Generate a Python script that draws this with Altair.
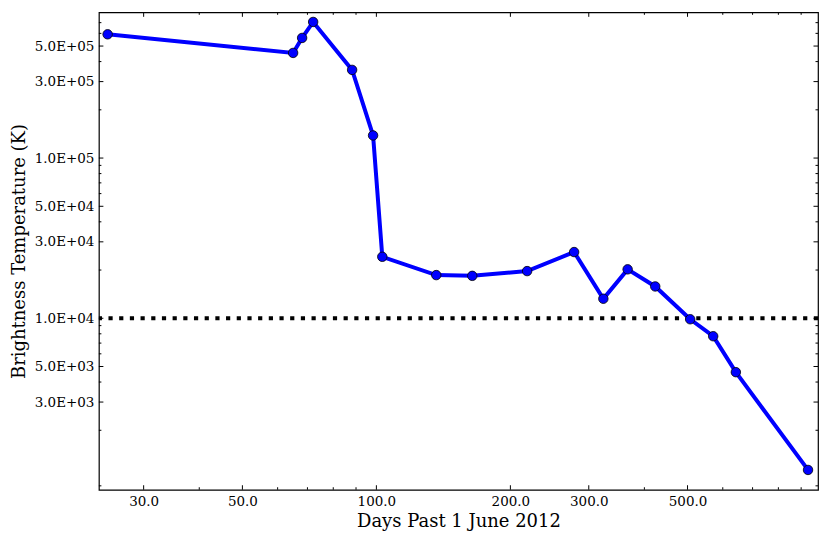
import altair as alt
import pandas as pd

# Data
days = [24.9, 65.0, 68.1, 72.1, 88.2, 98.3, 103.1, 136.3, 164.2, 218.1,
        278.1, 323.5, 366.8, 423.1, 507.0, 571.0, 642.0, 932.6]
temps = [5.92e5, 4.53e5, 5.62e5, 7.07e5, 3.55e5, 1.384e5, 2.42e4, 1.86e4,
         1.84e4, 1.97e4, 2.59e4, 1.324e4, 2.02e4, 1.58e4, 9860, 7726, 4610, 1131]

threshold = [1e4]

x_major = [30, 50, 100, 200, 300, 500]
x_minor = [40, 60, 70, 80, 90, 400, 600, 700, 800, 900]
y_major = [3e3, 5e3, 1e4, 3e4, 5e4, 1e5, 3e5, 5e5]
y_minor = [900, 2e3, 4e3, 6e3, 7e3, 8e3, 9e3, 2e4, 4e4, 6e4, 7e4, 8e4, 9e4,
           2e5, 4e5, 6e5, 7e5]

x_domain = [23.8, 982]
y_domain = [851, 8.12e5]

W, H = 720, 478
FONT = "DejaVu Serif"
MAJ, MIN = 4.5, 2.5

df = pd.DataFrame({"days": days, "temp": temps})
df_thr = pd.DataFrame({"t": threshold})
dxM = pd.DataFrame({"v": x_major})
dxm = pd.DataFrame({"v": x_minor})
dyM = pd.DataFrame({"v": y_major})
dym = pd.DataFrame({"v": y_minor})

xs = alt.Scale(type="log", domain=x_domain, nice=False)
ys = alt.Scale(type="log", domain=y_domain, nice=False)

x_axis = alt.Axis(values=x_major, format=".1f", ticks=False, domain=False, grid=False,
                  labelFont=FONT, labelFontSize=13.5, labelColor="black", labelPadding=5,
                  title="Days Past 1 June 2012", titleFont=FONT, titleFontSize=18,
                  titleFontWeight="normal", titleColor="black", titlePadding=4,
                  labelFlush=False)
y_axis = alt.Axis(values=y_major, labelExpr="replace(format(datum.value, '.1e'), 'e+', 'E+0')",
                  ticks=False, domain=False, grid=False,
                  labelFont=FONT, labelFontSize=13.5, labelColor="black", labelPadding=5,
                  title="Brightness Temperature (K)", titleFont=FONT, titleFontSize=18,
                  titleFontWeight="normal", titleColor="black", titlePadding=6,
                  labelFlush=False)

base = alt.Chart(df)

line = base.mark_line(color="#0000ff", strokeWidth=4, clip=True).encode(
    x=alt.X("days:Q", scale=xs, axis=x_axis),
    y=alt.Y("temp:Q", scale=ys, axis=y_axis),
)
pts = base.mark_point(shape="circle", filled=True, fill="#0000ff", stroke="black",
                      strokeWidth=0.8, size=90, opacity=1).encode(
    x=alt.X("days:Q", scale=xs),
    y=alt.Y("temp:Q", scale=ys),
)
thr = alt.Chart(df_thr).mark_rule(color="black", strokeWidth=4, strokeDash=[4.2, 6.5]).encode(
    y=alt.Y("t:Q", scale=ys),
)

def xticks(d, length):
    bot = alt.Chart(d).mark_rule(color="black", strokeWidth=1).encode(
        x=alt.X("v:Q", scale=xs), y=alt.value(H), y2=alt.value(H - length))
    top = alt.Chart(d).mark_rule(color="black", strokeWidth=1).encode(
        x=alt.X("v:Q", scale=xs), y=alt.value(0), y2=alt.value(length))
    return [bot, top]

def yticks(d, length):
    left = alt.Chart(d).mark_rule(color="black", strokeWidth=1).encode(
        y=alt.Y("v:Q", scale=ys), x=alt.value(0), x2=alt.value(length))
    right = alt.Chart(d).mark_rule(color="black", strokeWidth=1).encode(
        y=alt.Y("v:Q", scale=ys), x=alt.value(W), x2=alt.value(W - length))
    return [left, right]

tick_layers = xticks(dxM, MAJ) + xticks(dxm, MIN) + yticks(dyM, MAJ) + yticks(dym, MIN)

chart = alt.layer(line, thr, pts, *tick_layers).properties(
    width=W, height=H,
    background="white",
    padding={"left": 91, "top": 4, "right": 4, "bottom": 45},
    autosize=alt.AutoSizeParams(type="none"),
).configure_view(stroke="black", strokeWidth=1.2)

chart.save("out.html", embed_options={"renderer": "svg", "actions": False})
